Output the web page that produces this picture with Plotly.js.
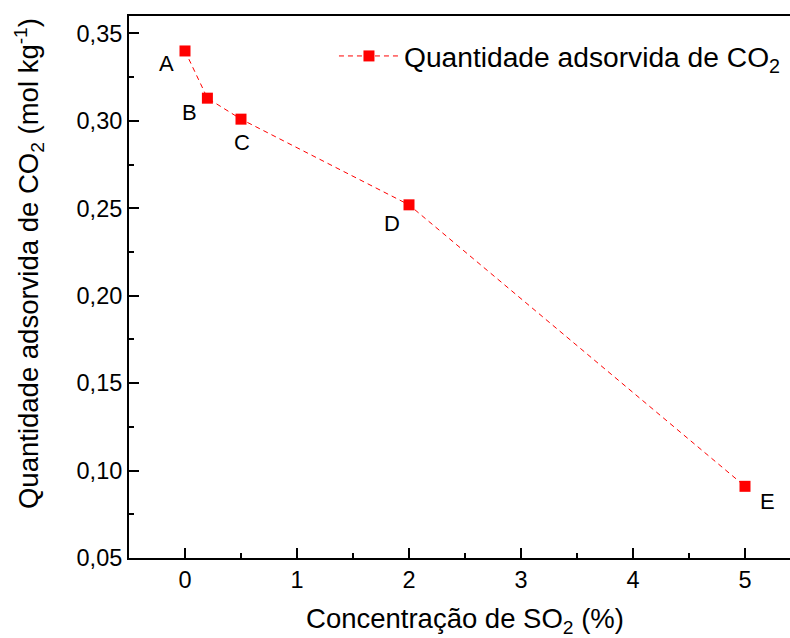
<!DOCTYPE html>
<html>
<head>
<meta charset="utf-8">
<script src="https://cdn.plot.ly/plotly-3.0.1.min.js"></script>
<style>
html,body{margin:0;padding:0;overflow:hidden;background:#fff;}
#chart{width:806px;height:638px;}
</style>
</head>
<body>
<div id="chart"></div>
<script>
// Data
const so2Conc = [0, 0.2, 0.5, 2, 5];
const co2Uptake = [0.340, 0.313, 0.301, 0.252, 0.091];
const pointLabels = ['A', 'B', 'C', 'D', 'E'];
const labelShiftX = [-19, -18, 1, -17, 22];
const labelShiftY = [-13, -14, -23, -19, -15];
const seriesName = 'Quantidade adsorvida de CO<sub>2</sub>';
const xTitle = 'Concentração de SO<sub>2</sub> (%)';
const yTitle = 'Quantidade adsorvida de CO<sub>2</sub> (mol kg<sup>-1</sup>)';

const FONT = 'Liberation Sans, Arimo, Arial, sans-serif';
const TICK_FS = 23.5;
const TITLE_FS = 27.5;
const LEG_FS = 28.2;
const LAB_FS = 22;

const trace = {
  x: so2Conc,
  y: co2Uptake,
  mode: 'lines+markers',
  type: 'scatter',
  name: seriesName,
  line: {color: '#ff0000', width: 1, dash: '5px,4px'},
  marker: {symbol: 'square', size: 11, color: '#ff0000'}
};

const annotations = so2Conc.map((xv, i) => ({
  x: xv, y: co2Uptake[i], xref: 'x', yref: 'y',
  text: pointLabels[i], showarrow: false,
  xshift: labelShiftX[i], yshift: labelShiftY[i],
  font: {family: FONT, size: LAB_FS, color: '#000'}
}));
// y-axis title (placed as rotated text to match the reference position)
annotations.push({
  x: -0.149, y: 0.544, xref: 'paper', yref: 'paper',
  xanchor: 'center', yanchor: 'middle', textangle: -90,
  text: yTitle, showarrow: false,
  font: {family: FONT, size: TITLE_FS, color: '#000'}
});

const layout = {
  width: 806, height: 638,
  margin: {l: 129, r: 5, t: 16, b: 80, autoexpand: false},
  paper_bgcolor: '#fff', plot_bgcolor: '#fff',
  separators: ',.',
  font: {family: FONT, size: TICK_FS, color: '#000'},
  showlegend: true,
  legend: {x: 0.305, y: 0.926, xanchor: 'left', yanchor: 'middle', bgcolor: 'rgba(0,0,0,0)',
           itemwidth: 60,
           font: {family: FONT, size: LEG_FS, color: '#000'}},
  xaxis: {
    range: [-0.5, 5.5], dtick: 1, tick0: 0,
    showgrid: false, zeroline: false, automargin: false,
    showline: true, linecolor: '#000', linewidth: 2, mirror: true,
    ticks: 'inside', ticklen: 10, tickwidth: 2, tickcolor: '#000',
    minor: {dtick: 0.5, ticks: 'inside', ticklen: 5, tickwidth: 2, tickcolor: '#000', showgrid: false},
    tickfont: {family: FONT, size: TICK_FS},
    title: {text: xTitle, font: {family: FONT, size: TITLE_FS}, standoff: 24}
  },
  yaxis: {
    range: [0.05, 0.36], dtick: 0.05, tick0: 0.05, tickformat: '.2f',
    showgrid: false, zeroline: false, automargin: false,
    showline: true, linecolor: '#000', linewidth: 2, mirror: true,
    ticks: 'inside', ticklen: 10, tickwidth: 2, tickcolor: '#000',
    minor: {dtick: 0.025, ticks: 'inside', ticklen: 5, tickwidth: 2, tickcolor: '#000', showgrid: false},
    tickfont: {family: FONT, size: TICK_FS}
  },
  annotations: annotations
};

Plotly.newPlot('chart', [trace], layout, {displayModeBar: false, staticPlot: true});
</script>
</body>
</html>
